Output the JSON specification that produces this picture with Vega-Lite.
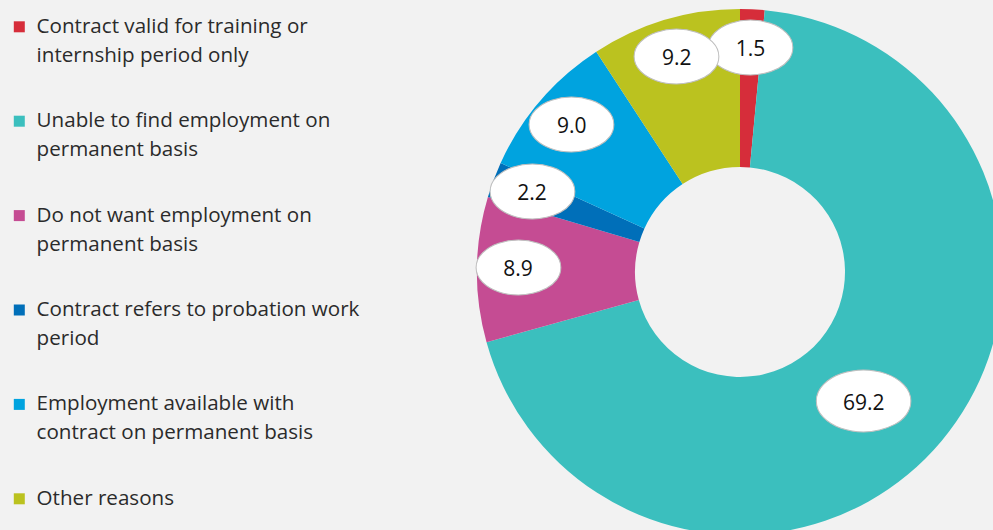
{
  "$schema": "https://vega.github.io/schema/vega-lite/v6.json",
  "width": 506,
  "height": 544,
  "autosize": {"type": "none"},
  "padding": {"left": 487, "top": 0, "right": 0, "bottom": 0},
  "background": "#f2f2f2",
  "config": {"view": {"stroke": null}},
  "data": {
    "values": [
      {"reason": "Contract valid for training or internship period only", "share": 1.5},
      {"reason": "Unable to find employment on permanent basis", "share": 69.2},
      {"reason": "Do not want employment on permanent basis", "share": 8.9},
      {"reason": "Contract refers to probation work period", "share": 2.2},
      {"reason": "Employment available with contract on permanent basis", "share": 9.0},
      {"reason": "Other reasons", "share": 9.2}
    ]
  },
  "transform": [{"window": [{"op": "row_number", "as": "rank"}]}],
  "encoding": {
    "theta": {"field": "share", "type": "quantitative", "stack": true},
    "order": {"field": "rank", "type": "quantitative"}
  },
  "layer": [
    {
      "mark": {"type": "arc", "outerRadius": 263, "innerRadius": 105},
      "encoding": {
        "color": {
          "field": "reason",
          "type": "nominal",
          "scale": {
            "domain": [
              "Contract valid for training or internship period only",
              "Unable to find employment on permanent basis",
              "Do not want employment on permanent basis",
              "Contract refers to probation work period",
              "Employment available with contract on permanent basis",
              "Other reasons"
            ],
            "range": ["#d62d3a", "#3bbfbe", "#c54c93", "#006fb9", "#00a3df", "#bbc21f"]
          },
          "legend": {
            "orient": "none",
            "legendX": -478,
            "legendY": 16.5,
            "title": null,
            "padding": 0,
            "symbolType": "square",
            "symbolSize": 121,
            "symbolStrokeWidth": 0,
            "symbolOpacity": 1,
            "labelFont": "Open Sans",
            "labelFontSize": 20.6,
            "labelColor": "#2b2b2b",
            "labelBaseline": "top",
            "labelLimit": 500,
            "labelOffset": 7,
            "rowPadding": 44.4,
            "labelExpr": "datum.label == 'Contract valid for training or internship period only' ? ['Contract valid for training or', 'internship period only'] : datum.label == 'Unable to find employment on permanent basis' ? ['Unable to find employment on', 'permanent basis'] : datum.label == 'Do not want employment on permanent basis' ? ['Do not want employment on', 'permanent basis'] : datum.label == 'Contract refers to probation work period' ? ['Contract refers to probation work', 'period'] : datum.label == 'Employment available with contract on permanent basis' ? ['Employment available with', 'contract on permanent basis'] : datum.label",
            "encode": {
              "labels": {"update": {"dy": {"value": -10}, "lineHeight": {"value": 29}}}
            }
          }
        }
      }
    },
    {
      "mark": {"type": "text", "text": "⬬", "radius": 222, "font": "DejaVu Sans", "fontSize": 104, "fill": "#ffffff", "stroke": "#bfbfbf", "strokeWidth": 1, "baseline": "middle", "align": "center"},
      "encoding": {
        "detail": {"field": "reason"},
        "opacity": {"condition": {"test": "datum.share > 50", "value": 0}, "value": 1}
      }
    },
    {
      "mark": {"type": "text", "text": "⬬", "radius": 181, "thetaOffset": 0.12, "font": "DejaVu Sans", "fontSize": 116, "fill": "#ffffff", "stroke": "#bfbfbf", "strokeWidth": 1, "baseline": "middle", "align": "center"},
      "encoding": {
        "detail": {"field": "reason"},
        "opacity": {"condition": {"test": "datum.share > 50", "value": 1}, "value": 0}
      }
    },
    {
      "mark": {"type": "text", "radius": 222, "font": "Open Sans", "fontSize": 21, "fill": "#111111", "baseline": "middle", "align": "center"},
      "encoding": {
        "detail": {"field": "reason"},
        "text": {"field": "share", "type": "quantitative", "format": ".1f"},
        "opacity": {"condition": {"test": "datum.share > 50", "value": 0}, "value": 1}
      }
    },
    {
      "mark": {"type": "text", "radius": 181, "thetaOffset": 0.12, "font": "Open Sans", "fontSize": 21, "fill": "#111111", "baseline": "middle", "align": "center"},
      "encoding": {
        "detail": {"field": "reason"},
        "text": {"field": "share", "type": "quantitative", "format": ".1f"},
        "opacity": {"condition": {"test": "datum.share > 50", "value": 1}, "value": 0}
      }
    }
  ]
}
